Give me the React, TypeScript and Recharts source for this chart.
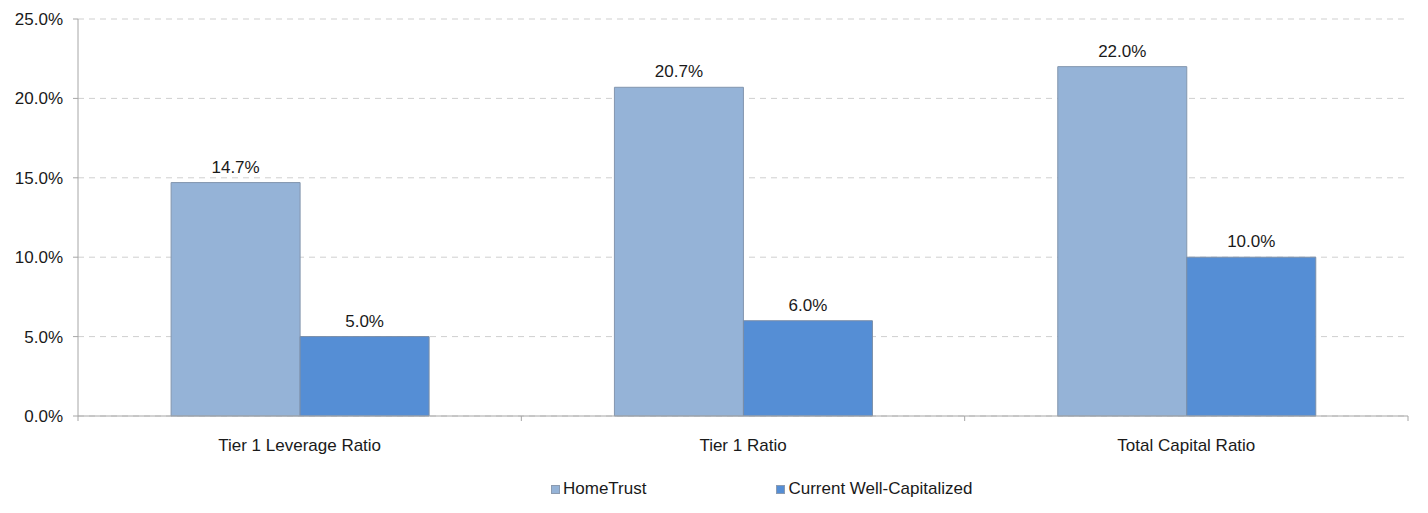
import {
  Bar,
  BarChart,
  CartesianGrid,
  LabelList,
  Legend,
  XAxis,
  YAxis
} from "recharts";

const categories = ["Tier 1 Leverage Ratio", "Tier 1 Ratio", "Total Capital Ratio"];
const homeTrust = [14.7, 20.7, 22.0];
const wellCapitalized = [5.0, 6.0, 10.0];
const yTicks = [0, 5, 10, 15, 20, 25];

const seriesNames = { homeTrust: "HomeTrust", wellCapitalized: "Current Well-Capitalized" };
const colors = { homeTrust: "#95B3D7", wellCapitalized: "#558ED5" };

const data = categories.map((name, i) => ({
  name,
  homeTrust: homeTrust[i],
  wellCapitalized: wellCapitalized[i]
}));

const font = "'Liberation Sans', Arial, sans-serif";
const textColor = "#1a1a1a";
const axisColor = "#a6a6a6";

const pct = (v: number) => `${Number(v).toFixed(1)}%`;

// category label plus tick marks on the band edges (Excel style)
function CategoryTick(props: any) {
  const { x, y, payload, index } = props;
  const half = payload?.offset ?? 0;
  const last = index === categories.length - 1;
  return (
    <g>
      <line x1={x - half} x2={x - half} y1={y - 22} y2={y - 17} stroke={axisColor} />
      {last ? <line x1={x + half} x2={x + half} y1={y - 22} y2={y - 17} stroke={axisColor} /> : null}
      <text x={x} y={y} dy={13} textAnchor="middle" fill={textColor} fontSize={17} fontFamily={font}>
        {payload.value}
      </text>
    </g>
  );
}

function LegendContent() {
  const items = [
    { key: "homeTrust", label: seriesNames.homeTrust, color: colors.homeTrust },
    { key: "wellCapitalized", label: seriesNames.wellCapitalized, color: colors.wellCapitalized }
  ];
  return (
    <div
      style={{
        display: "flex",
        paddingLeft: 551,
        marginTop: 10,
        gap: 130,
        fontFamily: font,
        fontSize: 17,
        color: textColor
      }}
    >
      {items.map((it) => (
        <div key={it.key} style={{ display: "flex", alignItems: "center" }}>
          <span
            style={{
              display: "inline-block",
              width: 7,
              height: 7,
              background: it.color,
              border: "1px solid #8c9bb0",
              marginRight: 3
            }}
          />
          <span>{it.label}</span>
        </div>
      ))}
    </div>
  );
}

export default function App() {
  return (
    <div style={{ position: "fixed", left: 0, top: 0, width: 1428, height: 513, background: "#fff" }}>
      <BarChart
        width={1428}
        height={513}
        data={data}
        margin={{ top: 19, right: 20, bottom: 8, left: 0 }}
        barCategoryGap="21%"
        barGap={0}
      >
        <CartesianGrid vertical={false} stroke="#cfcfcf" strokeDasharray="6 5" />
        <XAxis
          dataKey="name"
          stroke={axisColor}
          tickLine={false}
          height={53}
          tickMargin={16}
          tick={<CategoryTick />}
        />
        <YAxis
          width={78}
          domain={[0, 25]}
          ticks={yTicks}
          tickFormatter={pct}
          tickSize={5}
          tickMargin={10}
          stroke={axisColor}
          tick={{ fill: textColor, fontSize: 17, fontFamily: font }}
        />
        <Legend verticalAlign="bottom" height={36} content={<LegendContent />} />
        <Bar dataKey="homeTrust" name={seriesNames.homeTrust} fill={colors.homeTrust} stroke="#8396ae" strokeWidth={1} isAnimationActive={false}>
          <LabelList dataKey="homeTrust" position="top" offset={10} formatter={(v: any) => pct(v)} style={{ fill: textColor, fontSize: 17, fontFamily: font }} />
        </Bar>
        <Bar dataKey="wellCapitalized" name={seriesNames.wellCapitalized} fill={colors.wellCapitalized} stroke="#7a8ea8" strokeWidth={1} isAnimationActive={false}>
          <LabelList dataKey="wellCapitalized" position="top" offset={10} formatter={(v: any) => pct(v)} style={{ fill: textColor, fontSize: 17, fontFamily: font }} />
        </Bar>
      </BarChart>
    </div>
  );
}
